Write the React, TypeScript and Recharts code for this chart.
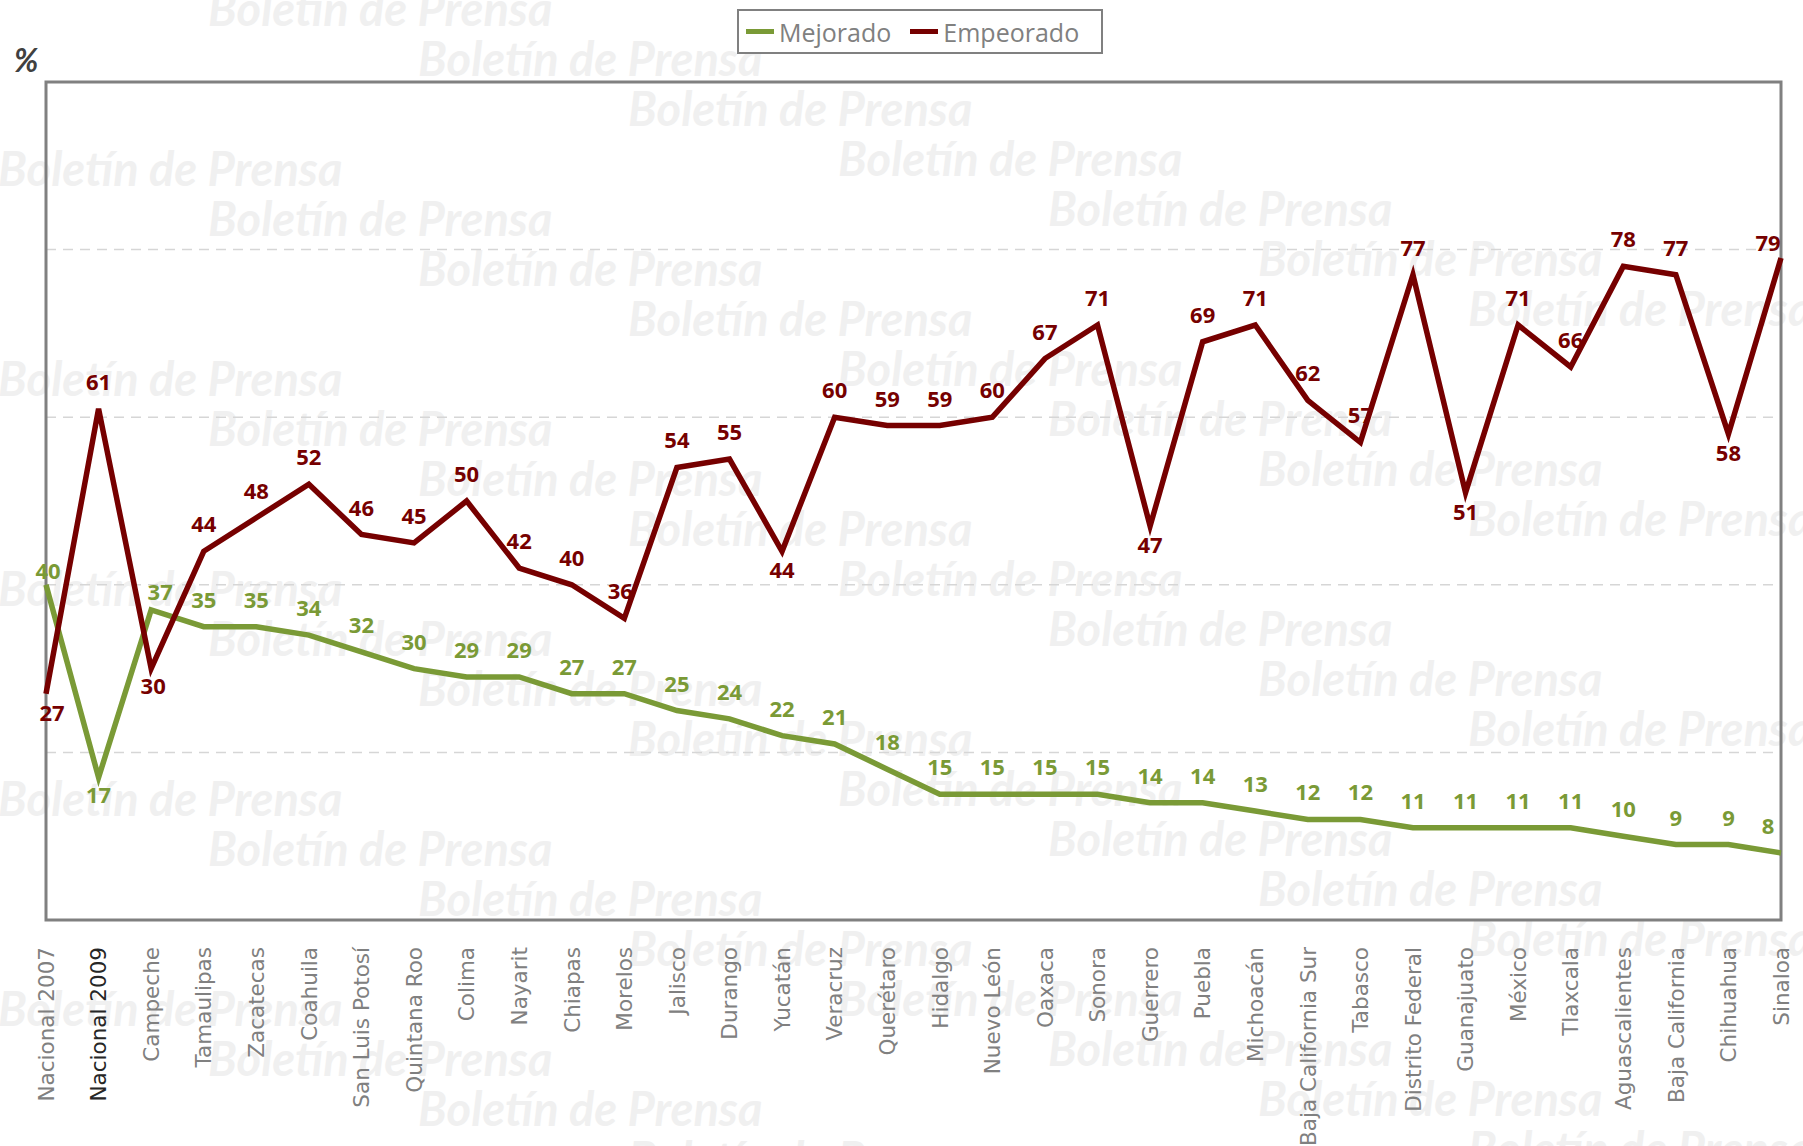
import { LineChart, Line, XAxis, YAxis, CartesianGrid, Legend, ReferenceArea } from 'recharts'

const estados = [
  'Nacional 2007', 'Nacional 2009', 'Campeche', 'Tamaulipas', 'Zacatecas', 'Coahuila',
  'San Luis Potosí', 'Quintana Roo', 'Colima', 'Nayarit', 'Chiapas', 'Morelos',
  'Jalisco', 'Durango', 'Yucatán', 'Veracruz', 'Querétaro', 'Hidalgo',
  'Nuevo León', 'Oaxaca', 'Sonora', 'Guerrero', 'Puebla', 'Michoacán',
  'Baja California Sur', 'Tabasco', 'Distrito Federal', 'Guanajuato', 'México', 'Tlaxcala',
  'Aguascalientes', 'Baja California', 'Chihuahua', 'Sinaloa'
]

const mejorado = [
  40, 17, 37, 35, 35, 34, 32, 30, 29, 29, 27, 27, 25, 24, 22, 21, 18, 15,
  15, 15, 15, 14, 14, 13, 12, 12, 11, 11, 11, 11, 10, 9, 9, 8
]

const empeorado = [
  27, 61, 30, 44, 48, 52, 46, 45, 50, 42, 40, 36, 54, 55, 44, 60, 59, 59,
  60, 67, 71, 47, 69, 71, 62, 57, 77, 51, 71, 66, 78, 77, 58, 79
]

const yTicks = [0, 20, 40, 60, 80, 100]

const data = estados.map((name, i) => ({
  name,
  mejorado: mejorado[i],
  empeorado: empeorado[i],
}))

const GREEN = '#7a9a36'
const RED = '#760000'
const LAST = estados.length - 1
const legendOrder = ['mejorado', 'empeorado']

// labels that sit under the point instead of above it
const redBelow = [0, 2, 14, 21, 27, 32]
const greenBelow = [1]

const makeLabel = (color: string, below: number[], nudge: Record<number, [number, number]>) =>
  (props: any) => {
    const { x, y, value, index } = props
    const isBelow = below.includes(index)
    let dx = index === LAST ? -13 : 0
    let dy = isBelow ? 27 : -19
    if (nudge[index]) {
      dx += nudge[index][0]
      dy += nudge[index][1]
    }
    return (
      <text
        x={x + dx}
        y={y + dy}
        textAnchor="middle"
        fill={color}
        fontFamily="Open Sans, sans-serif"
        fontWeight={700}
        fontSize={22}
      >
        {value}
      </text>
    )
  }

const greenLabel = makeLabel(GREEN, greenBelow, { 0: [2, 13], 1: [0, -2], 2: [9, 9] })
const redLabel = makeLabel(RED, redBelow, { 0: [6, 0], 2: [2, -2], 11: [-4, 0], [LAST]: [0, 12] })

const StateTick = (props: any) => {
  const { x, y, payload } = props
  const dark = payload.value === 'Nacional 2009'
  return (
    <text
      transform={`translate(${x},${y + 19}) rotate(-90)`}
      textAnchor="end"
      dy="0.36em"
      fill={dark ? '#262626' : '#808080'}
      fontFamily="DejaVu Sans, sans-serif"
      fontSize={21.5}
    >
      {payload.value}
    </text>
  )
}

const LegendBox = ({ payload }: any) => {
  const items = [...(payload || [])].sort(
    (a: any, b: any) => legendOrder.indexOf(a.dataKey) - legendOrder.indexOf(b.dataKey)
  )
  return (
    <div
      style={{
        boxSizing: 'border-box',
        width: 366,
        height: 45,
        border: '2.5px solid #808080',
        background: '#fff',
        display: 'flex',
        alignItems: 'center',
        paddingLeft: 7,
        fontFamily: 'Open Sans, sans-serif',
        fontSize: 25,
        color: '#808080',
      }}
    >
      {items.map((entry: any, i: number) => (
        <div key={i} style={{ display: 'flex', alignItems: 'center', marginRight: i === 0 ? 19 : 0 }}>
          <span style={{ display: 'inline-block', width: 28, height: 5, background: entry.color, marginRight: 5 }} />
          <span style={{ lineHeight: '40px' }}>{entry.value}</span>
        </div>
      ))}
    </div>
  )
}

const Watermark = () => {
  const marks = []
  for (let j = 0; j < 6; j++) {
    for (let k = 0; k < 8; k++) {
      marks.push(
        <text
          key={`${j}-${k}`}
          x={-2 + 210 * k}
          y={-42 + 50 * k + 210 * j}
          dominantBaseline="central"
          fontFamily="Lato, sans-serif"
          fontStyle="italic"
          fontWeight={700}
          fontSize={47}
          fill="#f0f0f0"
        >
          Boletín de Prensa
        </text>
      )
    }
  }
  return (
    <svg width={1803} height={1146} style={{ position: 'absolute', left: 0, top: 0 }}>
      {marks}
    </svg>
  )
}

export default function App() {
  return (
    <div style={{ position: 'absolute', left: 0, top: 0, width: 1803, height: 1146, background: '#fff', overflow: 'hidden' }}>
      <Watermark />
      <div style={{ position: 'absolute', left: 0, top: 0 }}>
        <LineChart width={1803} height={1146} data={data} margin={{ top: 82, right: 22, bottom: 0, left: 46 }}>
          <CartesianGrid vertical={false} stroke="#d6d6d6" strokeWidth={1.5} strokeDasharray="10 7" />
          <XAxis
            dataKey="name"
            interval={0}
            axisLine={false}
            tickLine={false}
            height={226}
            tick={<StateTick />}
          />
          <YAxis hide domain={[0, 100]} ticks={yTicks} />
          <ReferenceArea
            x1={estados[0]}
            x2={estados[LAST]}
            y1={0}
            y2={100}
            fill="none"
            stroke="#808080"
            strokeWidth={3}
            ifOverflow="visible"
          />
          <Legend
            layout="vertical"
            verticalAlign="middle"
            align="center"
            content={<LegendBox />}
            wrapperStyle={{ top: 9, left: 737, width: 366, height: 45 }}
          />
          <Line
            type="linear"
            dataKey="mejorado"
            name="Mejorado"
            stroke={GREEN}
            strokeWidth={5.5}
            dot={false}
            isAnimationActive={false}
            label={greenLabel}
          />
          <Line
            type="linear"
            dataKey="empeorado"
            name="Empeorado"
            stroke={RED}
            strokeWidth={5.5}
            dot={false}
            isAnimationActive={false}
            label={redLabel}
          />
        </LineChart>
      </div>
      <div
        style={{
          position: 'absolute',
          left: 14,
          top: 40,
          fontFamily: 'Lato, sans-serif',
          fontStyle: 'italic',
          fontWeight: 700,
          fontSize: 32,
          color: '#404040',
        }}
      >
        %
      </div>
    </div>
  )
}
